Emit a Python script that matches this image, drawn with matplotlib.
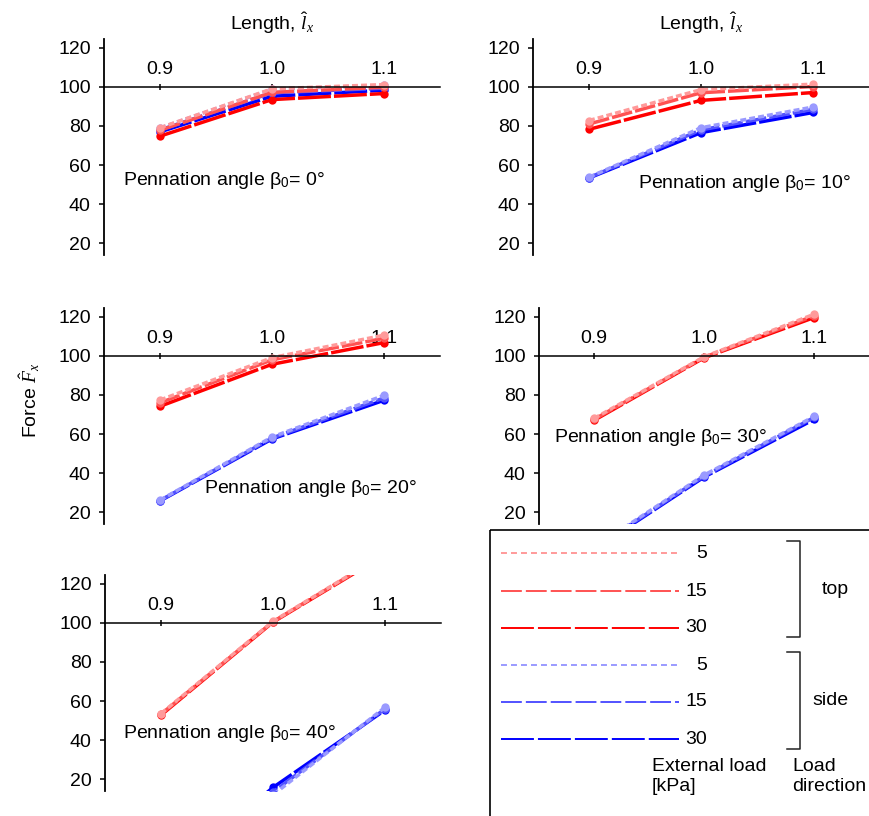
import matplotlib
matplotlib.use('Agg')
import matplotlib.pyplot as plt
from matplotlib.patches import Rectangle

plt.rcParams['font.family'] = 'Liberation Sans'
plt.rcParams['mathtext.fontset'] = 'custom'
plt.rcParams['mathtext.rm'] = 'Liberation Sans'
plt.rcParams['mathtext.it'] = 'Liberation Serif:italic'
plt.rcParams['lines.scale_dashes'] = False

W, H = 869, 816

# normalised length and pennation angles
lengths = [0.9, 1.0, 1.1]
angles = [0, 10, 20, 30, 40]

# normalised force, one row per pennation angle
top_5 = [[79.1, 99.0, 101.2], [82.8, 98.6, 101.4], [77.4, 99.1, 110.6],
         [68.0, 99.5, 121.3], [53.6, 100.8, 135.5]]
top_15 = [[77.8, 97.2, 99.8], [81.0, 97.0, 100.2], [76.0, 98.0, 109.0],
          [67.5, 99.3, 120.5], [53.3, 100.6, 135.2]]
top_30 = [[74.8, 93.5, 96.6], [78.3, 93.1, 97.1], [74.2, 95.7, 106.8],
          [67.0, 99.0, 119.6], [52.8, 100.4, 134.8]]
side_5 = [[79.0, 98.8, 100.8], [53.8, 79.1, 89.7], [26.2, 58.5, 79.8],
          [2.0, 39.0, 69.0], [-34.0, 12.0, 56.8]]
side_15 = [[78.0, 97.0, 99.3], [53.6, 78.0, 88.5], [26.0, 58.0, 78.5],
           [1.5, 38.5, 68.5], [-33.0, 13.5, 56.0]]
side_30 = [[77.0, 95.2, 98.3], [53.4, 76.6, 86.9], [25.8, 57.5, 77.3],
           [1.0, 38.0, 67.5], [-32.0, 15.8, 55.4]]

loads = ['5', '15', '30']
top_colors = ['#ff9a9a', '#ff5252', '#ff0000']
side_colors = ['#9a9aff', '#5252ff', '#0000ff']
dash_styles = [(4.3, 2.2), (15.0, 2.2), (23.7, 2.2)]
legend_dashes = [(4.3, 2.9), (15.0, 2.9), (23.7, 2.9)]

# axes rectangles in pixels: left, top, right, bottom
panel_px = [(104, 39, 440, 255), (533, 39, 869, 255),
            (104, 308, 440, 524), (539, 308, 869, 524),
            (105, 575, 441, 791)]
text_pos = [(0.867, 52.3), (0.944, 50.8), (0.939, 32.0), (0.864, 58.2), (0.866, 43.6)]

fig = plt.figure(figsize=(W / 100, H / 100), dpi=100)

overlay = fig.add_axes([0, 0, 1, 1])
overlay.set_xlim(0, W)
overlay.set_ylim(H, 0)
overlay.axis('off')

fs = 14
for i, ang in enumerate(angles):
    l, t, r, b = panel_px[i]
    ax = fig.add_axes([l / W, 1 - b / H, (r - l) / W, (b - t) / H])
    ax.set_xlim(0.85, 1.15)
    ax.set_ylim(14, 124.5)

    series = [(side_30, side_colors[2], dash_styles[2]),
              (side_15, side_colors[1], dash_styles[1]),
              (side_5, side_colors[0], dash_styles[0]),
              (top_30, top_colors[2], dash_styles[2]),
              (top_15, top_colors[1], dash_styles[1]),
              (top_5, top_colors[0], dash_styles[0])]
    for vals, col, ds in series:
        ax.plot(lengths, vals[i], color=col, lw=2.5, dashes=ds,
                marker='o', ms=6, mec=col, mew=0)

    for s in ['right', 'bottom']:
        ax.spines[s].set_visible(False)
    ax.spines['top'].set_position(('data', 100))
    ax.spines['left'].set_linewidth(1.3)
    ax.spines['top'].set_linewidth(1.1)
    ax.xaxis.set_ticks_position('top')
    ax.set_xticks(lengths)
    ax.set_xticklabels(['0.9', '1.0', '1.1'])
    ax.set_yticks([20, 40, 60, 80, 100, 120])
    ax.tick_params(axis='x', direction='inout', length=5, width=1.1,
                   pad=4, labelsize=fs)
    ax.tick_params(axis='y', direction='out', length=3.5, width=1.1,
                   pad=6, labelsize=fs)
    ax.patch.set_alpha(0)

    tx, ty = text_pos[i]
    ax.text(tx, ty, 'Pennation angle \u03b2$_0$= %d\u00b0' % ang,
            fontsize=fs, ha='left', va='center')
    if i < 2:
        ax.text(1.0, 132.5, r'Length, $\hat{l}_x$', fontsize=fs,
                ha='center', va='center', clip_on=False)

overlay.text(30, 400, r'Force $\hat{F}_x$', fontsize=fs, rotation=90,
             ha='center', va='center')

# legend panel
overlay.add_patch(Rectangle((490, 530), 400, 300, fill=False,
                            ec='black', lw=1.2, clip_on=False))
leg_y = [553, 591, 628, 665, 702, 739]
for k in range(3):
    overlay.plot([501, 679], [leg_y[k], leg_y[k]], color=top_colors[k],
                 lw=1.4, dashes=legend_dashes[k])
    overlay.text(707, leg_y[k], loads[k], fontsize=fs, ha='right', va='center')
    overlay.plot([501, 679], [leg_y[k + 3], leg_y[k + 3]], color=side_colors[k],
                 lw=1.4, dashes=legend_dashes[k])
    overlay.text(707, leg_y[k + 3], loads[k], fontsize=fs, ha='right', va='center')

for y0, y1, lab, xc in [(541, 637, 'top', 835), (652, 749, 'side', 830)]:
    overlay.plot([787, 800, 800, 787], [y0, y0, y1, y1], color='#222222', lw=1.1)
    overlay.text(xc, (y0 + y1) / 2, lab, fontsize=fs, ha='center', va='center')

overlay.text(652, 758, 'External load\n[kPa]', fontsize=fs, ha='left', va='top')
overlay.text(792, 758, 'Load\ndirection', fontsize=fs, ha='left', va='top')

fig.savefig('out.png', dpi=100)
